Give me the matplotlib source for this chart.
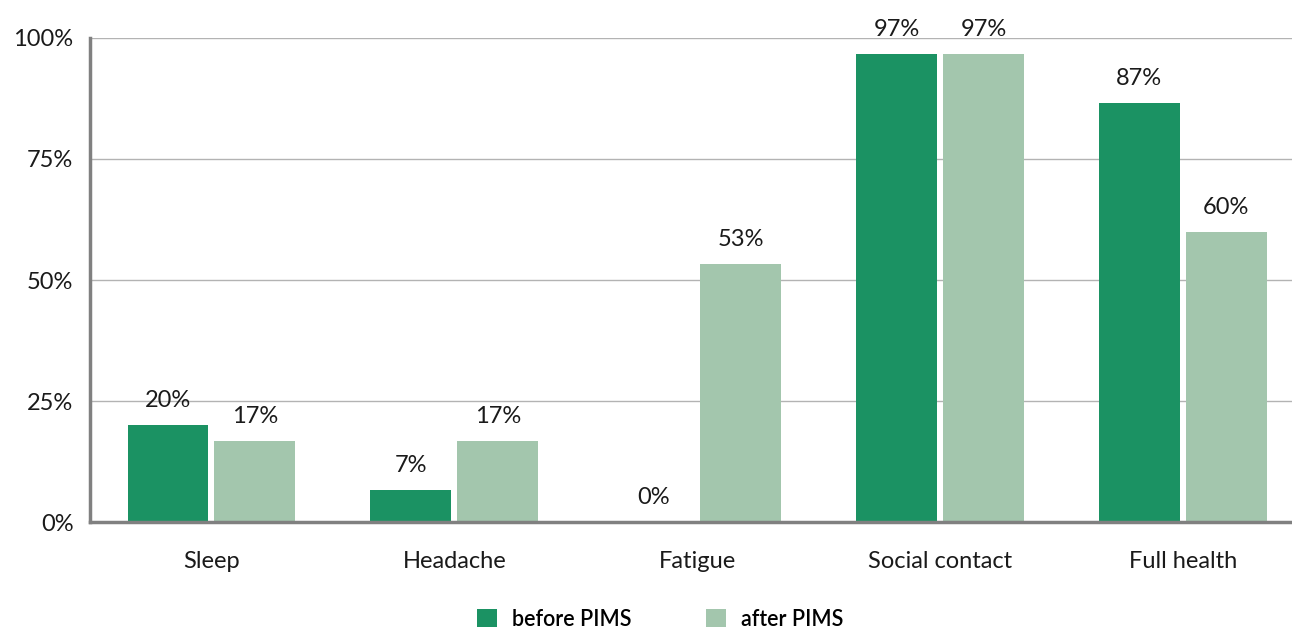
import matplotlib
matplotlib.use("Agg")
import matplotlib.pyplot as plt
from matplotlib.patches import Patch
import numpy as np

categories = ["Sleep", "Headache", "Fatigue", "Social contact", "Full health"]
before_pims = [20.0, 6.67, 0.0, 96.67, 86.67]
after_pims = [16.67, 16.67, 53.33, 96.67, 60.0]
series_names = ["before PIMS", "after PIMS"]
y_ticks = [0, 25, 50, 75, 100]

DARK = "#1b9263"
LIGHT = "#a3c6ad"
AXIS_GREY = "#808080"
GRID_GREY = "#b3b3b3"
TEXT = "#1a1a1a"

plt.rcParams["font.family"] = ["Lato", "DejaVu Sans"]

fig = plt.figure(figsize=(12.92, 6.30), dpi=100)
ax = fig.add_axes([0.0697, 0.1714, 0.9303, 0.7683])

x = np.arange(len(categories))
w = 0.333
off = 0.179
b1 = ax.bar(x - off, before_pims, width=w, color=DARK, zorder=3)
b2 = ax.bar(x + off, after_pims, width=w, color=LIGHT, zorder=3)

for bars, vals in ((b1, before_pims), (b2, after_pims)):
    for rect, v in zip(bars, vals):
        ax.annotate(f"{v:.0f}%", (rect.get_x() + rect.get_width() / 2, v),
                    xytext=(0, 10), textcoords="offset points",
                    ha="center", va="bottom", fontsize=17, color=TEXT)

ax.set_xlim(-0.5, 4.45)
ax.set_ylim(0, 100)
ax.set_yticks(y_ticks)
ax.set_yticklabels([f"{t}%" for t in y_ticks])
ax.set_xticks(x)
ax.set_xticklabels(categories)
ax.tick_params(axis="y", length=0, pad=12, labelsize=17, labelcolor=TEXT)
ax.tick_params(axis="x", length=0, pad=21, labelsize=17, labelcolor=TEXT)

ax.yaxis.grid(True, color=GRID_GREY, linewidth=1.0, zorder=0)
ax.set_axisbelow(True)
for s in ("top", "right"):
    ax.spines[s].set_visible(False)
for s in ("left", "bottom"):
    ax.spines[s].set_color(AXIS_GREY)
    ax.spines[s].set_linewidth(2.5)
    ax.spines[s].set_zorder(4)

handles = [Patch(facecolor=DARK, edgecolor="none"), Patch(facecolor=LIGHT, edgecolor="none")]
fig.legend(handles, series_names, loc="lower center", bbox_to_anchor=(0.511, -0.03),
           ncol=2, frameon=False, prop={"size": 15.5, "weight": "semibold"},
           handlelength=0.92, handleheight=0.92, handletextpad=0.7, columnspacing=3.45)

fig.savefig("out.png", dpi=100)
